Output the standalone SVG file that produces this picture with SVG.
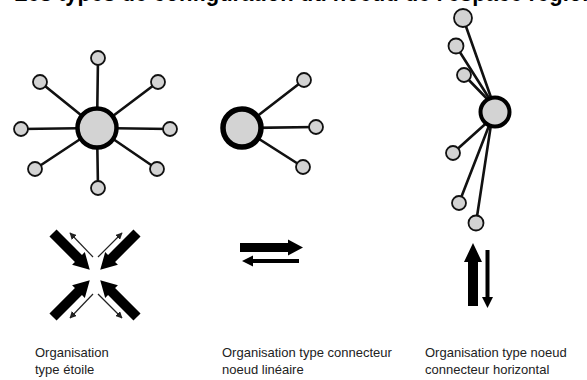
<svg xmlns="http://www.w3.org/2000/svg" width="587" height="380" viewBox="0 0 587 380">
<style>
.title{font-family:"Liberation Sans",Arial,sans-serif;font-weight:bold;font-size:24px;fill:#000}
.lbl{font-family:"Liberation Sans",Arial,sans-serif;font-size:13px;fill:#222}
.sat{fill:#d3d3d3;stroke:#111;stroke-width:1.8}
.hub{fill:#d3d3d3;stroke:#000}
.link{stroke:#111;stroke-width:2.6;fill:none;stroke-linecap:round}
.big{fill:#000}
.thin{stroke:#222;stroke-width:1.2;fill:none;marker-end:url(#ah)}
</style>
<defs>
<marker id="ah" viewBox="0 0 10 10" refX="9" refY="5" markerWidth="7" markerHeight="7" orient="auto" markerUnits="userSpaceOnUse">
<path d="M0,0 L10,5 L0,10 z" fill="#222"/>
</marker>
<polygon id="bigarrow" points="0,-5 36,-5 36,-9 52,0 36,9 36,5 0,5"/>
</defs>
<rect width="587" height="380" fill="#fff"/>
<text class="title" x="14" y="1" textLength="600" lengthAdjust="spacingAndGlyphs">Les types de configuration du noeud de l'espace régional</text>

<g id="connectors">
<line class="link" x1="97" y1="128" x2="98" y2="58"/>
<line class="link" x1="97" y1="128" x2="158" y2="82"/>
<line class="link" x1="97" y1="128" x2="170" y2="129"/>
<line class="link" x1="97" y1="128" x2="157" y2="169"/>
<line class="link" x1="97" y1="128" x2="98" y2="188"/>
<line class="link" x1="97" y1="128" x2="35" y2="169"/>
<line class="link" x1="97" y1="128" x2="21" y2="129"/>
<line class="link" x1="97" y1="128" x2="40" y2="82"/>

<line class="link" x1="242" y1="128" x2="304" y2="80"/>
<line class="link" x1="242" y1="128" x2="316" y2="127"/>
<line class="link" x1="242" y1="128" x2="303" y2="167"/>

<line class="link" x1="494" y1="106" x2="463" y2="18"/>
<line class="link" x1="494" y1="106" x2="456" y2="46"/>
<line class="link" x1="494" y1="106" x2="464" y2="75"/>
<line class="link" x1="492" y1="118" x2="453" y2="153"/>
<line class="link" x1="492" y1="118" x2="459" y2="203"/>
<line class="link" x1="492" y1="118" x2="476" y2="223"/>
</g>

<g id="star-hub"><circle class="hub" cx="97" cy="128" r="19.5" stroke-width="4.5"/></g>
<g id="star-s1"><circle class="sat" cx="98" cy="58" r="7"/></g>
<g id="star-s2"><circle class="sat" cx="158" cy="82" r="7"/></g>
<g id="star-s3"><circle class="sat" cx="170" cy="129" r="7"/></g>
<g id="star-s4"><circle class="sat" cx="157" cy="169" r="7"/></g>
<g id="star-s5"><circle class="sat" cx="98" cy="188" r="7"/></g>
<g id="star-s6"><circle class="sat" cx="35" cy="169" r="7"/></g>
<g id="star-s7"><circle class="sat" cx="21" cy="129" r="7"/></g>
<g id="star-s8"><circle class="sat" cx="40" cy="82" r="7"/></g>

<g id="lin-hub"><circle class="hub" cx="242" cy="128" r="19" stroke-width="5.5"/></g>
<g id="lin-s1"><circle class="sat" cx="304" cy="80" r="7"/></g>
<g id="lin-s2"><circle class="sat" cx="316" cy="127" r="7"/></g>
<g id="lin-s3"><circle class="sat" cx="303" cy="167" r="7"/></g>

<g id="hor-hub"><circle class="hub" cx="495" cy="112" r="14.5" stroke-width="4"/></g>
<g id="hor-s1"><circle class="sat" cx="463" cy="18" r="9"/></g>
<g id="hor-s2"><circle class="sat" cx="456" cy="46" r="7.5"/></g>
<g id="hor-s3"><circle class="sat" cx="464" cy="75" r="7"/></g>
<g id="hor-s4"><circle class="sat" cx="453" cy="153" r="7"/></g>
<g id="hor-s5"><circle class="sat" cx="459" cy="203" r="7"/></g>
<g id="hor-s6"><circle class="sat" cx="476" cy="223" r="7.5"/></g>

<g id="star-arrows">
<use href="#bigarrow" class="big" transform="translate(53,233) rotate(45)"/>
<use href="#bigarrow" class="big" transform="translate(137,233) rotate(135)"/>
<use href="#bigarrow" class="big" transform="translate(53,317) rotate(-45)"/>
<use href="#bigarrow" class="big" transform="translate(137,317) rotate(-135)"/>
<line class="thin" x1="93" y1="257" x2="70" y2="233"/>
<line class="thin" x1="98" y1="257" x2="122" y2="233"/>
<line class="thin" x1="93" y1="294" x2="70" y2="318"/>
<line class="thin" x1="98" y1="294" x2="122" y2="318"/>
</g>

<g id="lin-arrows">
<polygon class="big" points="240,243 288,243 288,239.5 303,247.5 288,255.5 288,252 240,252"/>
<line x1="299" y1="261" x2="251" y2="261" stroke="#000" stroke-width="4"/>
<polygon class="big" points="242,261 253,255.5 253,266.5"/>
</g>

<g id="hor-arrows">
<polygon class="big" points="468,306 468,262 464,262 473,243 482,262 478,262 478,306"/>
<line x1="487.5" y1="250" x2="487.5" y2="298" stroke="#000" stroke-width="4"/>
<polygon class="big" points="482,297 487.5,308 493,297"/>
</g>

<g id="labels">
<text class="lbl" x="35" y="357">Organisation</text>
<text class="lbl" x="35" y="374">type étoile</text>
<text class="lbl" x="222" y="357">Organisation type connecteur</text>
<text class="lbl" x="222" y="374">noeud linéaire</text>
<text class="lbl" x="425" y="357">Organisation type noeud</text>
<text class="lbl" x="425" y="374">connecteur horizontal</text>
</g>
</svg>
